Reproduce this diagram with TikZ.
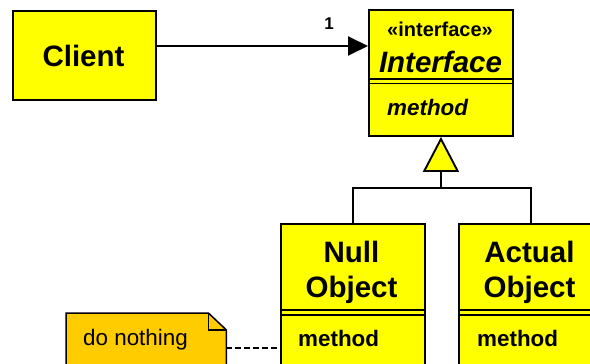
\documentclass[tikz,border=0pt]{standalone}
\usepackage{fontspec}
\setmainfont{Liberation Sans}
\usetikzlibrary{arrows.meta,calc}
\definecolor{uyel}{HTML}{FFFF00}
\definecolor{unote}{HTML}{FFCC00}
\begin{document}
\begin{tikzpicture}[x=1pt,y=-1pt,
  box/.style={draw=black, fill=uyel, line width=1.9pt, inner sep=0pt, anchor=north west},
  sepline/.style={line width=1.4pt},
  title/.style={font=\bfseries\fontsize{29.5}{30}\selectfont, inner sep=0pt, anchor=base},
  meth/.style={font=\bfseries\fontsize{22.4}{24}\selectfont, inner sep=0pt, anchor=base west},
  conn/.style={line width=1.9pt},
]
\useasboundingbox (0,0) rectangle (590,364);
\clip (0,0) rectangle (590,364);

% Client
\node[box, minimum width=143, minimum height=89] (client) at (12,10) {};
\node[title] (clientlbl) at (83.5,66.5) {Client};

% Interface
\node[box, minimum width=144, minimum height=126] (iface) at (368,9) {};
\draw[sepline] ($(iface.north west)+(0,70)$) -- ($(iface.north east)+(0,70)$);
\draw[sepline] ($(iface.north west)+(0,74.5)$) -- ($(iface.north east)+(0,74.5)$);
\node[font=\bfseries\fontsize{20}{22}\selectfont, inner sep=0pt, anchor=base] (stereo) at (440,36.5) {«interface»};
\node[title, font=\bfseries\itshape\fontsize{29.5}{30}\selectfont] (iname) at (440.5,72) {Interface};
\node[meth, font=\bfseries\itshape\fontsize{22.4}{24}\selectfont] (imeth) at (387,115) {method};

% association
\coordinate (ca) at ($(client.north east)+(0,36)$);
\draw[conn, -{Triangle[length=20pt,width=19pt]}] (ca) -- (iface.west |- ca);
\node[font=\bfseries\fontsize{17}{17}\selectfont, inner sep=0pt, anchor=base] (mult) at (329,29.5) {1};

% subclasses
\node[box, minimum width=144, minimum height=180] (null) at (280,223) {};
\node[box, minimum width=144, minimum height=180] (actual) at (458,223) {};
\foreach \bx in {null,actual}{
  \draw[sepline] ($(\bx.north west)+(0,87)$) -- ($(\bx.north east)+(0,87)$);
  \draw[sepline] ($(\bx.north west)+(0,92)$) -- ($(\bx.north east)+(0,92)$);
}
\node[title] (nulla) at (351.5,262) {Null};
\node[title] (nullb) at (351.5,297) {Object};
\node[meth] (nullm) at (298,346) {method};
\node[title] (acta) at (529.5,262) {Actual};
\node[title] (actb) at (529.5,297) {Object};
\node[meth] (actm) at (477,346) {method};

% generalization
\coordinate (j) at (iface.south |- 0,188);
\draw[conn] (null.north) |- (j) -| (actual.north);
\draw[conn, -{Triangle[length=35pt,width=36pt,fill=uyel]}] (j) -- (iface.south);

% note
\node[minimum width=160, minimum height=60, inner sep=0pt, anchor=north west] (note) at (66,313) {};
\filldraw[fill=unote, line width=1.5pt, line join=miter]
  (note.south west) -- (note.north west) -- ($(note.north east)+(-18,0)$)
  -- ($(note.north east)+(0,17)$) -- (note.south east);
\draw[line width=1.5pt] ($(note.north east)+(-18,0)$) -- ($(note.north east)+(-18,17)$) -- ($(note.north east)+(0,17)$);
\node[font=\fontsize{22.4}{24}\selectfont, inner sep=0pt, anchor=base west] (notetxt) at (83,345) {do nothing};
\coordinate (nd) at (note.east |- 0,348);
\draw[line width=1.5pt, dash pattern=on 6pt off 3pt] (nd) -- (null.west |- nd);
\end{tikzpicture}
\end{document}
